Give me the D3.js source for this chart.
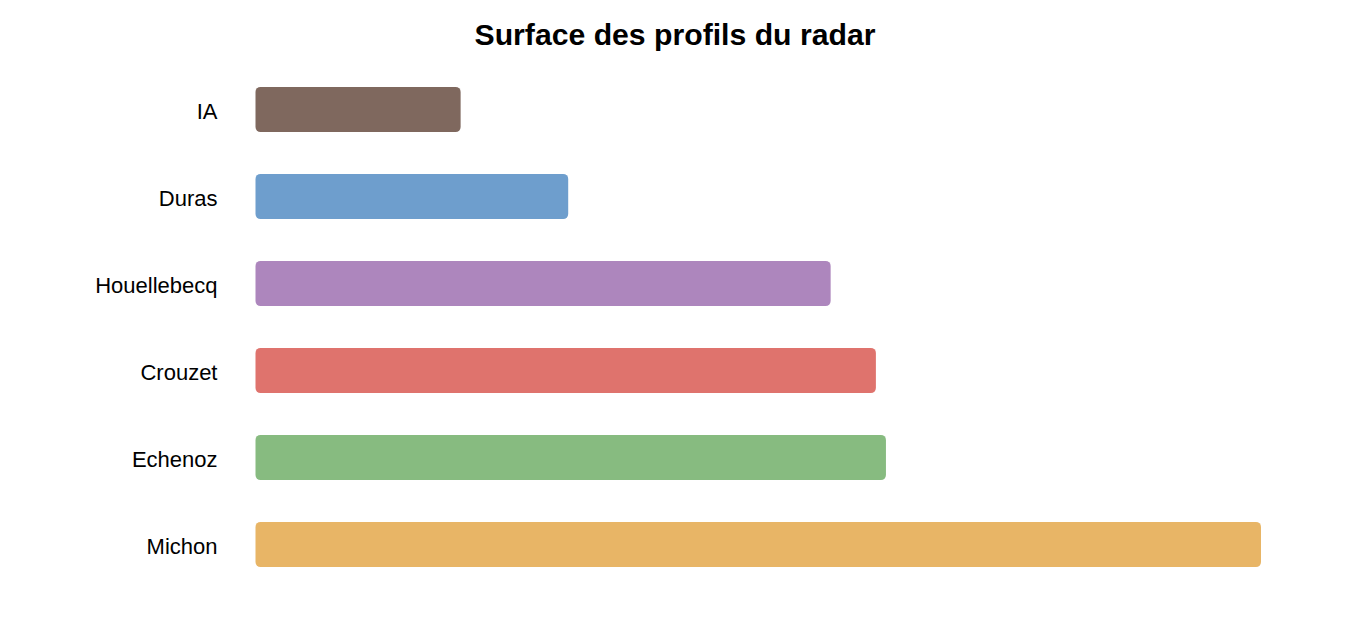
<!DOCTYPE html>
<html>
<head>
<meta charset="utf-8">
<script src="https://cdn.jsdelivr.net/npm/d3@7"></script>
<style>
html,body{margin:0;padding:0;background:#fff;}
svg{display:block;}
</style>
</head>
<body>
<svg id="chart" width="1350" height="627"></svg>
<script>
const categories = ["IA", "Duras", "Houellebecq", "Crouzet", "Echenoz", "Michon"];
const values = [0.204, 0.311, 0.572, 0.617, 0.627, 1.0];
const colors = ["#7f685e", "#6e9ecd", "#ad86bd", "#df736d", "#87bb80", "#e8b566"];
const title = "Surface des profils du radar";

const svg = d3.select("#chart");
const x = d3.scaleLinear().domain([0, 1.0]).range([255.5, 1261]);
const y = d3.scaleBand().domain(categories).range([66, 588]).paddingInner(0.48).paddingOuter(0.24);

svg.append("text")
  .attr("x", 675).attr("y", 45)
  .attr("text-anchor", "middle")
  .attr("font-family", "Liberation Sans, Arial, sans-serif")
  .attr("font-weight", "bold")
  .attr("font-size", 30.2)
  .attr("fill", "#000")
  .text(title);

svg.selectAll("rect.bar")
  .data(categories)
  .join("rect")
  .attr("class", "bar")
  .attr("x", x(0))
  .attr("y", d => y(d))
  .attr("width", (d, i) => x(values[i]) - x(0))
  .attr("height", y.bandwidth())
  .attr("rx", 5).attr("ry", 5)
  .attr("fill", (d, i) => colors[i]);

const yAxis = d3.axisLeft(y).tickSize(0).tickPadding(0);
const g = svg.append("g").attr("transform", "translate(217.5,2.5)").call(yAxis);
g.select(".domain").remove();
g.selectAll("text")
  .attr("font-family", "Liberation Sans, Arial, sans-serif")
  .attr("font-size", 22)
  .attr("fill", "#000");
</script>
</body>
</html>
